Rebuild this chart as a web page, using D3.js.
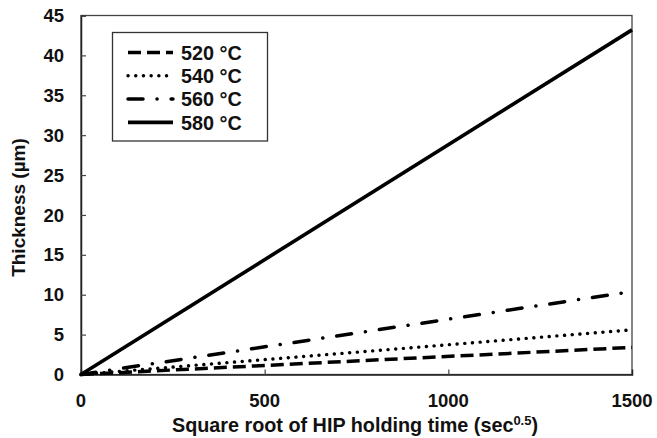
<!DOCTYPE html>
<html>
<head>
<meta charset="utf-8">
<script src="https://cdn.jsdelivr.net/npm/d3@7"></script>
<style>
  html, body { margin: 0; padding: 0; background: #fff; }
  svg text { font-family: "Liberation Sans", Arial, sans-serif; font-weight: bold; fill: #111; }
</style>
</head>
<body>
<svg id="chart" width="657" height="438"></svg>
<script>
// Square root of HIP holding time (sec^0.5)
const sqrtTime = [0, 1500];
// Layer thickness (µm) for each holding temperature
const t520 = [0, 3.4];
const t540 = [0, 5.6];
const t560 = [0, 10.4];
const t580 = [0, 43.2];
const seriesNames = ["520 °C", "540 °C", "560 °C", "580 °C"];
const xTicks = [0, 500, 1000, 1500];
const yTicks = [0, 5, 10, 15, 20, 25, 30, 35, 40, 45];

const seriesValues = [t520, t540, t560, t580];
const styles = [
  { width: 3.5, dash: "13 6", cap: "butt" },
  { width: 3.4, dash: "0.1 7.6", cap: "round" },
  { width: 3.5, dash: "15 14 0.1 14", cap: "round" },
  { width: 3.6, dash: null, cap: "butt" }
];

const svg = d3.select("#chart");
const m = { left: 81, right: 632, top: 15.5, bottom: 374.5 };

const x = d3.scaleLinear().domain([0, 1500]).range([m.left, m.right]);
const y = d3.scaleLinear().domain([0, 45]).range([m.bottom, m.top]);

// plot frame
svg.append("rect")
  .attr("x", m.left).attr("y", m.top)
  .attr("width", m.right - m.left).attr("height", m.bottom - m.top)
  .attr("fill", "none").attr("stroke", "#444").attr("stroke-width", 1.3);

// axes with inward ticks
const yAxis = svg.append("g").attr("transform", `translate(${m.left},0)`)
  .call(d3.axisRight(y).tickValues(yTicks).tickSize(5).tickFormat(""));
yAxis.select(".domain").attr("stroke", "#222").attr("stroke-width", 1.5);
yAxis.selectAll(".tick line").attr("stroke", "#444").attr("stroke-width", 1.2);

const xAxis = svg.append("g").attr("transform", `translate(0,${m.bottom})`)
  .call(d3.axisTop(x).tickValues(xTicks.slice(1, -1)).tickSize(5).tickFormat(""));
xAxis.select(".domain").attr("stroke", "#222").attr("stroke-width", 1.5);
xAxis.selectAll(".tick line").attr("stroke", "#444").attr("stroke-width", 1.2);

// tick labels
svg.append("g").selectAll("text").data(yTicks).join("text")
  .attr("x", 64).attr("y", d => y(d)).attr("dy", "0.36em")
  .attr("text-anchor", "end").style("font-size", "18.5px")
  .text(d => d);

svg.append("g").selectAll("text").data(xTicks).join("text")
  .attr("x", d => x(d)).attr("y", 406.5)
  .attr("text-anchor", "middle").style("font-size", "18.5px")
  .text(d => d);

// axis titles
svg.append("text")
  .attr("transform", "translate(24.5,207.5) rotate(-90)")
  .attr("text-anchor", "middle").style("font-size", "19px")
  .text("Thickness (µm)");

const xt = svg.append("text")
  .attr("x", 355).attr("y", 432)
  .attr("text-anchor", "middle").style("font-size", "19.8px");
xt.append("tspan").text("Square root of HIP holding time (sec");
xt.append("tspan").attr("dy", -7).style("font-size", "13px").text("0.5");
xt.append("tspan").attr("dy", 7).text(")");

// series lines
const line = d3.line().x(d => x(d[0])).y(d => y(d[1]));
seriesValues.forEach((vals, i) => {
  const pts = sqrtTime.map((t, k) => [t, vals[k]]);
  const st = styles[i];
  svg.append("path").datum(pts)
    .attr("d", line)
    .attr("fill", "none").attr("stroke", "#000")
    .attr("stroke-width", st.width)
    .attr("stroke-linecap", st.cap)
    .attr("stroke-dasharray", st.dash);
});

// legend
const lg = svg.append("g");
lg.append("rect")
  .attr("x", 112.5).attr("y", 32.5).attr("width", 155).attr("height", 108.5)
  .attr("fill", "#fff").attr("stroke", "#333").attr("stroke-width", 1.3);
seriesNames.forEach((name, i) => {
  const cy = 52.5 + i * 23.3;
  const st = styles[i];
  lg.append("line")
    .attr("x1", 128).attr("x2", 173).attr("y1", cy).attr("y2", cy)
    .attr("stroke", "#000").attr("stroke-width", st.width)
    .attr("stroke-linecap", st.cap)
    .attr("stroke-dasharray", st.dash);
  lg.append("text")
    .attr("x", 181).attr("y", cy).attr("dy", "0.36em")
    .style("font-size", "19.8px")
    .text(name);
});
</script>
</body>
</html>
